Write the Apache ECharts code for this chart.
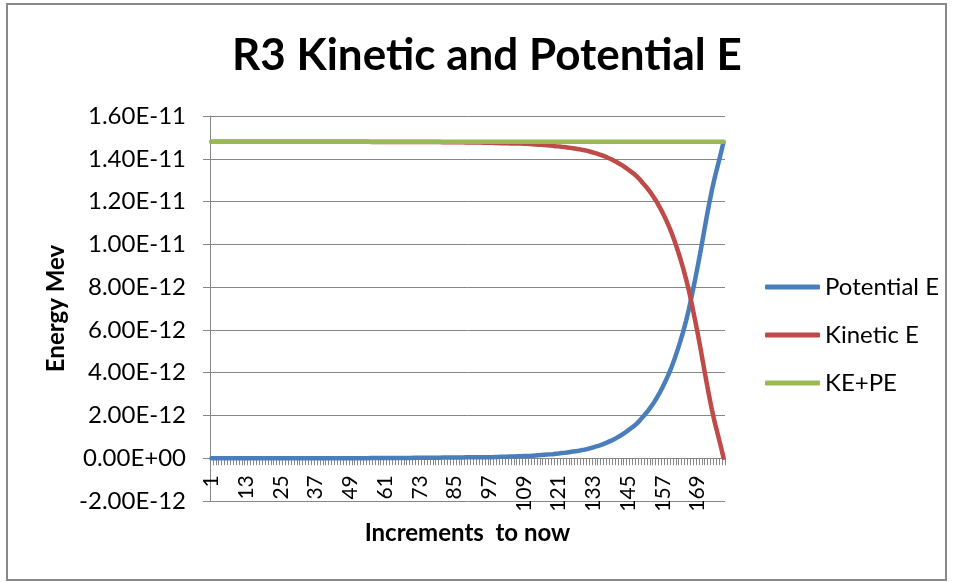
<!DOCTYPE html>
<html>
<head>
<meta charset="utf-8">
<title>R3 Kinetic and Potential E</title>
<script src="https://cdn.jsdelivr.net/npm/echarts@6/dist/echarts.min.js"></script>
<style>
  html, body { margin: 0; padding: 0; background: #fff; }
  #chart { width: 955px; height: 582px; }
</style>
</head>
<body>
<div id="chart"></div>
<script>
// values, in units of 1e-12 (Mev axis shows them in E-notation)
const UNIT = 1e-12

const increments = Array.from({ length: 178 }, (_, i) => String(i + 1))

const potentialE = [
  0, 0, 0, 0, 0, 0, 0, 0, 0, 0,
  0, 0, 0, 0, 0, 0, 0, 0, 0, 0,
  0, 0, 0, 0, 0, 0, 0, 0, 0, 0,
  0, 0, 0, 0, 0, 0, 0, 0, 0, 0,
  0, 0, 0, 0, 0, 0, 0, 0, 0, 0,
  0, 0, 0, 0, 0, 0.01, 0.01, 0.01, 0.01, 0.01,
  0.01, 0.01, 0.01, 0.01, 0.01, 0.01, 0.01, 0.01, 0.01, 0.01,
  0.02, 0.02, 0.02, 0.02, 0.02, 0.02, 0.02, 0.02, 0.02, 0.02,
  0.03, 0.03, 0.03, 0.03, 0.03, 0.03, 0.03, 0.03, 0.04, 0.04,
  0.04, 0.04, 0.04, 0.04, 0.05, 0.05, 0.05, 0.05, 0.06, 0.06,
  0.07, 0.07, 0.07, 0.08, 0.08, 0.08, 0.09, 0.09, 0.10, 0.10,
  0.11, 0.12, 0.13, 0.14, 0.15, 0.16, 0.17, 0.18, 0.19, 0.21,
  0.22, 0.24, 0.25, 0.27, 0.29, 0.31, 0.33, 0.35, 0.38, 0.40,
  0.43, 0.47, 0.51, 0.55, 0.59, 0.64, 0.69, 0.75, 0.81, 0.88,
  0.95, 1.03, 1.11, 1.20, 1.30, 1.40, 1.50, 1.62, 1.76, 1.92,
  2.07, 2.24, 2.42, 2.62, 2.84, 3.08, 3.34, 3.62, 3.92, 4.25,
  4.62, 5.02, 5.44, 5.90, 6.40, 6.95, 7.58, 8.24, 8.92, 9.64,
  10.40, 11.16, 11.88, 12.55, 13.15, 13.68, 14.22, 14.78
]

const kineticE = [
  14.80, 14.80, 14.80, 14.80, 14.80, 14.80, 14.80, 14.80, 14.80, 14.80,
  14.80, 14.80, 14.80, 14.80, 14.80, 14.80, 14.80, 14.80, 14.80, 14.80,
  14.80, 14.80, 14.80, 14.80, 14.80, 14.80, 14.80, 14.80, 14.80, 14.80,
  14.80, 14.80, 14.80, 14.80, 14.80, 14.80, 14.80, 14.80, 14.80, 14.80,
  14.80, 14.80, 14.80, 14.80, 14.80, 14.80, 14.80, 14.80, 14.80, 14.80,
  14.80, 14.80, 14.80, 14.80, 14.80, 14.79, 14.79, 14.79, 14.79, 14.79,
  14.79, 14.79, 14.79, 14.79, 14.79, 14.79, 14.79, 14.79, 14.79, 14.79,
  14.78, 14.78, 14.78, 14.78, 14.78, 14.78, 14.78, 14.78, 14.78, 14.78,
  14.77, 14.77, 14.77, 14.77, 14.77, 14.77, 14.77, 14.77, 14.76, 14.76,
  14.76, 14.76, 14.76, 14.76, 14.75, 14.75, 14.75, 14.75, 14.74, 14.74,
  14.73, 14.73, 14.73, 14.72, 14.72, 14.72, 14.71, 14.71, 14.70, 14.70,
  14.69, 14.68, 14.67, 14.66, 14.65, 14.64, 14.63, 14.62, 14.61, 14.59,
  14.58, 14.56, 14.55, 14.53, 14.51, 14.49, 14.47, 14.45, 14.42, 14.40,
  14.37, 14.33, 14.29, 14.25, 14.21, 14.16, 14.11, 14.05, 13.99, 13.92,
  13.85, 13.77, 13.69, 13.60, 13.50, 13.40, 13.30, 13.18, 13.04, 12.88,
  12.73, 12.56, 12.38, 12.18, 11.96, 11.72, 11.46, 11.18, 10.88, 10.55,
  10.18, 9.78, 9.36, 8.90, 8.40, 7.85, 7.22, 6.56, 5.88, 5.16,
  4.40, 3.64, 2.92, 2.25, 1.65, 1.12, 0.58, 0.02
]

const totalE = [
  14.80, 14.80, 14.80, 14.80, 14.80, 14.80, 14.80, 14.80, 14.80, 14.80,
  14.80, 14.80, 14.80, 14.80, 14.80, 14.80, 14.80, 14.80, 14.80, 14.80,
  14.80, 14.80, 14.80, 14.80, 14.80, 14.80, 14.80, 14.80, 14.80, 14.80,
  14.80, 14.80, 14.80, 14.80, 14.80, 14.80, 14.80, 14.80, 14.80, 14.80,
  14.80, 14.80, 14.80, 14.80, 14.80, 14.80, 14.80, 14.80, 14.80, 14.80,
  14.80, 14.80, 14.80, 14.80, 14.80, 14.80, 14.80, 14.80, 14.80, 14.80,
  14.80, 14.80, 14.80, 14.80, 14.80, 14.80, 14.80, 14.80, 14.80, 14.80,
  14.80, 14.80, 14.80, 14.80, 14.80, 14.80, 14.80, 14.80, 14.80, 14.80,
  14.80, 14.80, 14.80, 14.80, 14.80, 14.80, 14.80, 14.80, 14.80, 14.80,
  14.80, 14.80, 14.80, 14.80, 14.80, 14.80, 14.80, 14.80, 14.80, 14.80,
  14.80, 14.80, 14.80, 14.80, 14.80, 14.80, 14.80, 14.80, 14.80, 14.80,
  14.80, 14.80, 14.80, 14.80, 14.80, 14.80, 14.80, 14.80, 14.80, 14.80,
  14.80, 14.80, 14.80, 14.80, 14.80, 14.80, 14.80, 14.80, 14.80, 14.80,
  14.80, 14.80, 14.80, 14.80, 14.80, 14.80, 14.80, 14.80, 14.80, 14.80,
  14.80, 14.80, 14.80, 14.80, 14.80, 14.80, 14.80, 14.80, 14.80, 14.80,
  14.80, 14.80, 14.80, 14.80, 14.80, 14.80, 14.80, 14.80, 14.80, 14.80,
  14.80, 14.80, 14.80, 14.80, 14.80, 14.80, 14.80, 14.80, 14.80, 14.80,
  14.80, 14.80, 14.80, 14.80, 14.80, 14.80, 14.80, 14.80
]

const yMin = -2e-12
const yMax = 1.6e-11
const yStep = 2e-12
const yTickLabels = [
  '-2.00E-12', '0.00E+00', '2.00E-12', '4.00E-12', '6.00E-12',
  '8.00E-12', '1.00E-11', '1.20E-11', '1.40E-11', '1.60E-11'
]

const FONT = 'Lato, sans-serif'
const GRAY = '#868686'

const GRID_TOP = 116
const GRID_BOTTOM = 81
// category axis sits on the zero line, one y step above the grid bottom
const stepPx = (582 - GRID_TOP - GRID_BOTTOM) / (yTickLabels.length - 1)

const chart = echarts.init(document.getElementById('chart'))

chart.setOption({
  animation: false,
  backgroundColor: '#fff',
  textStyle: { fontFamily: FONT, color: '#000' },
  title: {
    text: 'R3 Kinetic and Potential E',
    left: 227,
    top: 29,
    textStyle: { fontFamily: FONT, fontSize: 44, fontWeight: 'bold', color: '#000' }
  },
  legend: {
    orient: 'vertical',
    left: 760,
    top: 270,
    icon: 'roundRect',
    itemWidth: 55,
    itemHeight: 5,
    itemGap: 24,
    textStyle: { fontFamily: FONT, fontSize: 24, color: '#000' },
    data: ['Potential E', 'Kinetic E', 'KE+PE']
  },
  graphic: [
    {
      type: 'rect',
      shape: { x: 7, y: 4, width: 939, height: 576 },
      style: { fill: 'none', stroke: '#888', lineWidth: 2 },
      silent: true
    }
  ],
  grid: {
    left: 210,
    right: 230,
    top: GRID_TOP,
    bottom: GRID_BOTTOM,
    containLabel: false,
    outerBoundsMode: 'none'
  },
  xAxis: {
    type: 'category',
    data: increments,
    boundaryGap: true,
    offset: -stepPx,
    name: 'Increments  to now',
    nameLocation: 'middle',
    nameGap: 63,
    nameTextStyle: { fontFamily: FONT, fontSize: 24, fontWeight: 'bold', color: '#000' },
    axisLine: { onZero: false, lineStyle: { color: GRAY, width: 1 } },
    axisTick: { show: true, interval: 0, length: 7, lineStyle: { color: GRAY } },
    axisLabel: {
      interval: 11,
      rotate: 90,
      margin: 17,
      fontFamily: FONT,
      fontSize: 21,
      color: '#000'
    },
    splitLine: { show: false }
  },
  yAxis: {
    type: 'value',
    min: yMin,
    max: yMax,
    interval: yStep,
    name: 'Energy Mev',
    nameLocation: 'middle',
    nameRotate: 90,
    nameGap: 139,
    nameTextStyle: { fontFamily: FONT, fontSize: 24, fontWeight: 'bold', color: '#000' },
    axisLine: { show: true, lineStyle: { color: GRAY, width: 1 } },
    axisTick: { show: true, length: 7, lineStyle: { color: GRAY } },
    axisLabel: {
      margin: 24,
      fontFamily: FONT,
      fontSize: 24,
      color: '#000',
      formatter: (v) => yTickLabels[Math.round((v - yMin) / yStep)]
    },
    splitLine: { show: true, lineStyle: { color: GRAY, width: 1 } }
  },
  series: [
    {
      name: 'Potential E',
      type: 'line',
      symbol: 'none',
      data: potentialE.map((v) => v * UNIT),
      lineStyle: { color: '#4A7EBB', width: 4.5, cap: 'round', join: 'round' },
      itemStyle: { color: '#4A7EBB' }
    },
    {
      name: 'Kinetic E',
      type: 'line',
      symbol: 'none',
      data: kineticE.map((v) => v * UNIT),
      lineStyle: { color: '#BE4B48', width: 4.5, cap: 'round', join: 'round' },
      itemStyle: { color: '#BE4B48' }
    },
    {
      name: 'KE+PE',
      type: 'line',
      symbol: 'none',
      data: totalE.map((v) => v * UNIT),
      lineStyle: { color: '#98B954', width: 4.5, cap: 'round', join: 'round' },
      itemStyle: { color: '#98B954' }
    }
  ]
})
</script>
</body>
</html>
